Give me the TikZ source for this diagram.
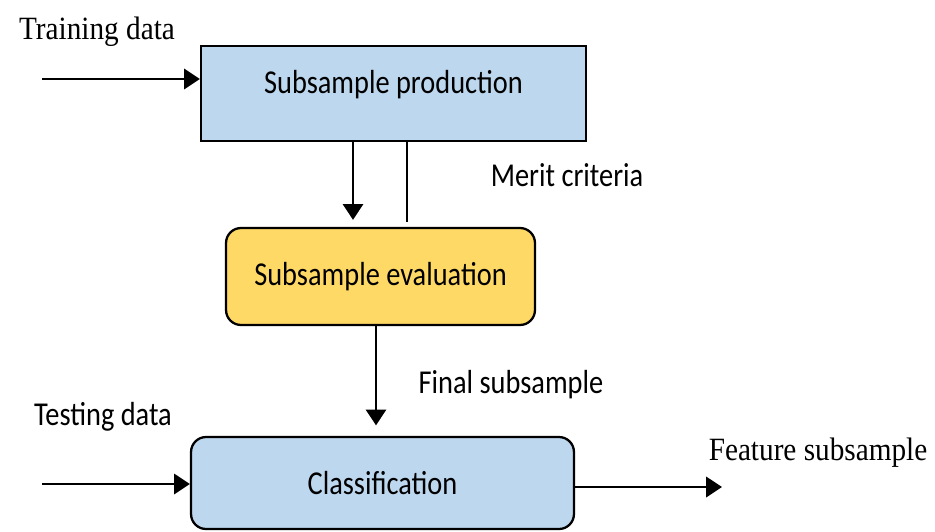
\documentclass[tikz,border=0pt]{standalone}
\usepackage{fontspec}
\setmainfont{Liberation Serif}
\setsansfont{Carlito}
\newfontfamily\condsans[FakeStretch=0.85]{Carlito}
\newfontfamily\condserif[FakeStretch=0.9]{Liberation Serif}
\usepackage{tikz}
\usetikzlibrary{shapes}
\usetikzlibrary{arrows.meta}

\definecolor{boxblue}{RGB}{189,215,238}
\definecolor{boxyellow}{RGB}{255,217,102}

\tikzset{
    flowbox/.style={draw, line width=1.3pt, font=\condsans\fontsize{19}{22}\selectfont, inner sep=0pt},
    conn/.style={line width=1.5pt, -{Triangle[length=9pt, width=11.5pt]}},
    sanslabel/.style={font=\condsans\fontsize{19}{22}\selectfont},
    seriflabel/.style={font=\condserif\fontsize{18.5}{22}\selectfont}
}

\begin{document}
\begin{tikzpicture}[x=0.02cm, y=-0.02cm]
    \useasboundingbox (0,0) rectangle (935,531);
    % boxes
    \node (prod) at (393.5,93.5) [flowbox, fill=boxblue, minimum width=7.7cm, minimum height=1.9cm, text height=11pt, text depth=11pt] {Subsample production};
    \node (eval) at (380.5,276.5) [flowbox, fill=boxyellow, rounded corners=0.3cm, minimum width=6.18cm, minimum height=1.94cm] {Subsample evaluation};
    \node (class) at (382.5,483) [flowbox, fill=boxblue, rounded corners=0.3cm, minimum width=7.66cm, minimum height=1.84cm] {Classification};
    % labels
    \node (trainlbl) at (97,32) [seriflabel] {Training data};
    \node (meritlbl) at (567,175) [sanslabel] {Merit criteria};
    \node (finallbl) at (511,385) [sanslabel] {Final subsample};
    \node (testlbl) at (103,417) [sanslabel] {Testing data};
    \node (featlbl) at (818,453) [seriflabel] {Feature subsample};
    % free ends
    \coordinate (trainin) at (42,79);
    \coordinate (testin) at (42,484);
    \coordinate (featout) at (722,487);
    \coordinate (downx) at (353,0);
    \coordinate (meritx) at (407,0);
    \coordinate (finalx) at (376,0);
    % connectors
    \draw[conn] (trainin) -- (trainin -| prod.west);
    \draw[conn, shorten >=4pt] (prod.south -| downx) -- (eval.north -| downx);
    \draw[line width=1.5pt, shorten >=3pt] (prod.south -| meritx) -- (eval.north -| meritx);
    \draw[conn, shorten >=6pt] (eval.south -| finalx) -- (class.north -| finalx);
    \draw[conn] (testin) -- (testin -| class.west);
    \draw[conn] (class.east |- featout) -- (featout); % output of the classifier
\end{tikzpicture}
\end{document}
